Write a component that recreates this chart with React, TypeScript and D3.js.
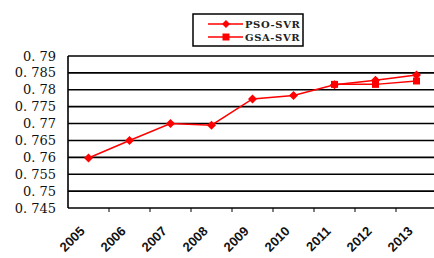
import React from 'react';
import * as d3 from 'd3';

const years = ['2005', '2006', '2007', '2008', '2009', '2010', '2011', '2012', '2013'];
const psoSvr = [0.7598, 0.765, 0.77, 0.7695, 0.7773, 0.7783, 0.7815, 0.7828, 0.7844];
const gsaYears = ['2011', '2012', '2013'];
const gsaSvr = [0.7816, 0.7816, 0.7826];
const yTicks = [0.745, 0.75, 0.755, 0.76, 0.765, 0.77, 0.775, 0.78, 0.785, 0.79];

const W = 434;
const H = 258;
const margin = { left: 68, top: 56, right: -3, bottom: 50 };

const fmt = (v: number) => {
  // the source shows a gap after the decimal point
  const s = String(+v.toFixed(3));
  return s.replace('.', '. ');
};

const App = () => {
  const x = d3
    .scaleBand()
    .domain(years)
    .range([margin.left, W - margin.right]);
  const y = d3
    .scaleLinear()
    .domain([0.745, 0.79])
    .range([H - margin.bottom, margin.top]);

  const cx = (yr: string) => (x(yr) as number) + x.bandwidth() / 2;

  const line = d3
    .line<[string, number]>()
    .x(d => cx(d[0]))
    .y(d => y(d[1]));

  const psoPts: [string, number][] = years.map((yr, i) => [yr, psoSvr[i]]);
  const gsaPts: [string, number][] = gsaYears.map((yr, i) => [yr, gsaSvr[i]]);

  const diamond = (px: number, py: number, r = 4.5) =>
    `M${px},${py - r}L${px + r},${py}L${px},${py + r}L${px - r},${py}Z`;

  const bottom = y(0.745);

  return (
    <svg
      width={W}
      height={H}
      style={{ position: 'absolute', left: 0, top: 0, background: '#fff' }}
    >
      {/* grid */}
      {yTicks.slice(1).map(t => (
        <line key={t} x1={margin.left} x2={W} y1={y(t)} y2={y(t)} stroke="#000" strokeWidth={1.6} />
      ))}
      {/* axes */}
      <line x1={margin.left} x2={margin.left} y1={y(0.79)} y2={bottom} stroke="#000" strokeWidth={1.6} />
      <line x1={margin.left} x2={W} y1={bottom} y2={bottom} stroke="#000" strokeWidth={1.6} />
      {years.slice(1).map(yr => (
        <line key={yr} x1={x(yr)} x2={x(yr)} y1={bottom} y2={bottom + 4} stroke="#000" strokeWidth={1} />
      ))}
      {yTicks.map(t => (
        <text
          key={t}
          x={56}
          y={y(t)}
          dy="0.35em"
          textAnchor="end"
          fontFamily="DejaVu Serif"
          fontSize={13}
          fill="#111"
        >
          {fmt(t)}
        </text>
      ))}
      {years.map(yr => (
        <text
          key={yr}
          transform={`translate(${cx(yr) - 3},${bottom + 24}) rotate(-45)`}
          textAnchor="end"
          fontFamily="Liberation Sans"
          fontWeight="bold"
          fontSize={13}
          fill="#111"
        >
          {yr}
        </text>
      ))}
      {/* series */}
      <path d={line(gsaPts) || ''} fill="none" stroke="#ff0000" strokeWidth={1.5} />
      {gsaPts.map(d => (
        <rect key={d[0]} x={cx(d[0]) - 3.5} y={y(d[1]) - 3.5} width={7} height={7} fill="#ff0000" />
      ))}
      <path d={line(psoPts) || ''} fill="none" stroke="#ff0000" strokeWidth={1.5} />
      {psoPts.map(d => (
        <path key={d[0]} d={diamond(cx(d[0]), y(d[1]))} fill="#ff0000" />
      ))}
      {/* legend */}
      <rect x={193} y={14} width={110} height={32} fill="#fff" stroke="#000" strokeWidth={1.5} />
      <line x1={208} x2={243} y1={24} y2={24} stroke="#ff0000" strokeWidth={1.5} />
      <path d={diamond(226, 24, 4)} fill="#ff0000" />
      <text x={245} y={24} dy="0.35em" fontFamily="DejaVu Serif" fontWeight="bold" fontSize={10} letterSpacing={0.6} fill="#222">
        PSO-SVR
      </text>
      <line x1={208} x2={243} y1={37} y2={37} stroke="#ff0000" strokeWidth={1.5} />
      <rect x={222.5} y={33.5} width={7} height={7} fill="#ff0000" />
      <text x={245} y={37} dy="0.35em" fontFamily="DejaVu Serif" fontWeight="bold" fontSize={10} letterSpacing={0.6} fill="#222">
        GSA-SVR
      </text>
    </svg>
  );
};

export default App;
